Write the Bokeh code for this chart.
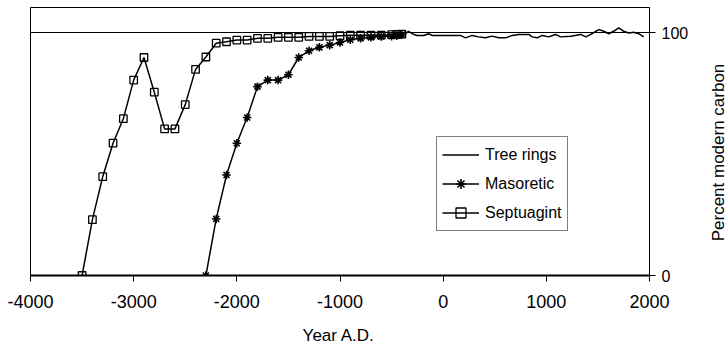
import math
from bokeh.plotting import figure
from bokeh.layouts import row, column
from bokeh.models import Range1d, FixedTicker, Legend, LegendItem
from bokeh.core.properties import value
from bokeh.embed import file_html
from bokeh.resources import INLINE

# ---- data ----
tree_year = [-390, -336, -290, -252, -188, -140, -107, 0, 100, 168, 216, 281, 342, 410,
             475, 539, 604, 669, 733, 830, 863, 911, 960, 1024, 1089, 1137, 1237, 1334,
             1382, 1431, 1479, 1512, 1557, 1605, 1653, 1702, 1750, 1799, 1847, 1896, 1944]
tree_pmc = [98.8, 100.6, 99.4, 98.9, 98.9, 99.6, 98.9, 98.9, 98.9, 98.9, 97.9, 98.9, 98.3, 97.9,
            98.6, 97.9, 97.9, 98.9, 99.3, 99.3, 98.3, 97.9, 98.9, 98.3, 99.3, 98.3, 98.6, 99.3,
            98.3, 99.3, 100.6, 101.3, 100.6, 99.6, 100.6, 102.0, 100.6, 99.9, 100.2, 99.6, 98.3]

maso_year = [-2300, -2200, -2100, -2000, -1900, -1800, -1700, -1600, -1500, -1400, -1300,
             -1200, -1100, -1000, -900, -800, -700, -600, -500, -450, -400]
maso_pmc = [0, 23.3, 41.4, 54.5, 65.1, 77.8, 80.5, 80.5, 82.7, 89.8, 92.6,
            94.0, 94.9, 96.0, 97.1, 97.7, 98.1, 98.5, 98.6, 98.8, 99.2]

sept_year = [-3500, -3400, -3300, -3200, -3100, -3000, -2900, -2800, -2700, -2600, -2500,
             -2400, -2300, -2200, -2100, -2000, -1900, -1800, -1700, -1600, -1500, -1400,
             -1300, -1200, -1100, -1000, -900, -800, -700, -600, -500, -450, -400]
sept_pmc = [0, 23.0, 40.7, 54.5, 64.6, 80.5, 89.8, 75.5, 60.4, 60.4, 70.4,
            84.9, 90.0, 95.7, 96.3, 97.0, 97.0, 97.7, 97.7, 98.1, 98.1, 98.1,
            98.5, 98.5, 98.5, 98.8, 99.0, 99.0, 99.0, 99.0, 99.2, 99.3, 99.4]

x_ticks = [-4000, -3000, -2000, -1000, 0, 1000, 2000]
x_tick_labels = ["-4000", "-3000", "-2000", "-1000", "0", "1000", "2000"]
y_ticks = [0, 100]
y_tick_labels = ["0", "100"]
grid_levels = [100]
x_title = ["Year A.D."]
y_title = ["Percent modern carbon"]

FONT = "Liberation Sans"

p = figure(width=700, height=320, output_backend="svg", toolbar_location=None,
           x_range=Range1d(-4000, 2000), y_range=Range1d(0, 110.4),
           y_axis_location="right",
           min_border_left=30, min_border_right=51, min_border_top=7, min_border_bottom=45)

p.background_fill_color = "white"
p.border_fill_color = "white"
p.outline_line_color = "black"
p.outline_line_width = 1
p.outline_line_alpha = 1

# grid
p.xgrid.visible = False
p.ygrid.ticker = FixedTicker(ticks=grid_levels)
p.ygrid.grid_line_color = "black"
p.ygrid.grid_line_width = 1
p.ygrid.grid_line_alpha = 1

# x axis
xa = p.xaxis[0]
xa.ticker = FixedTicker(ticks=x_ticks)
xa.major_label_overrides = {t: s for t, s in zip(x_ticks, x_tick_labels)}
xa.major_label_text_font = FONT
xa.major_label_text_font_size = "18px"
xa.major_label_text_color = "black"
xa.major_label_standoff = 13
xa.axis_line_color = "black"
xa.axis_line_width = 2
xa.major_tick_line_color = "black"
xa.major_tick_out = 6
xa.major_tick_in = 0
xa.minor_tick_line_color = None

# y axis (right)
ya = p.yaxis[0]
ya.ticker = FixedTicker(ticks=y_ticks)
ya.major_label_overrides = {t: s for t, s in zip(y_ticks, y_tick_labels)}
ya.major_label_text_font = FONT
ya.major_label_text_font_size = "16px"
ya.major_label_text_color = "black"
ya.major_label_standoff = 6
ya.axis_line_color = "black"
ya.axis_line_width = 1
ya.major_tick_line_color = "black"
ya.major_tick_out = 6
ya.major_tick_in = 0
ya.minor_tick_line_color = None

# series
r_tree = p.line(tree_year, tree_pmc, line_color="black", line_width=1.5)
r_maso_l = p.line(maso_year, maso_pmc, line_color="black", line_width=1.5)
r_maso_m = p.scatter(maso_year, maso_pmc, marker="asterisk", size=8.5,
                     line_color="black", line_width=1.6)
r_sept_l = p.line(sept_year, sept_pmc, line_color="black", line_width=1.5)
r_sept_m = p.scatter(sept_year, sept_pmc, marker="square", size=7.5,
                     line_color="black", line_width=1.3, fill_color=None)

legend = Legend(items=[
    LegendItem(label="Tree rings", renderers=[r_tree]),
    LegendItem(label="Masoretic", renderers=[r_maso_l, r_maso_m]),
    LegendItem(label="Septuagint", renderers=[r_sept_l, r_sept_m]),
], location=(406, 44))
legend.label_text_font = FONT
legend.label_text_font_size = "16px"
legend.label_text_color = "black"
legend.glyph_width = 37
legend.glyph_height = 25
legend.label_height = 25
legend.label_standoff = 6
legend.spacing = 4
legend.padding = 5
legend.margin = 0
legend.border_line_color = "black"
legend.border_line_width = 1
legend.background_fill_color = "white"
legend.background_fill_alpha = 1
p.add_layout(legend)


def blank_panel(w, h):
    f = figure(width=w, height=h, output_backend="svg", toolbar_location=None,
               x_range=Range1d(0, w), y_range=Range1d(0, h),
               x_axis_location=None, y_axis_location=None,
               min_border_left=0, min_border_right=0, min_border_top=0, min_border_bottom=0)
    f.outline_line_color = None
    f.xgrid.visible = False
    f.ygrid.visible = False
    f.background_fill_color = "white"
    f.border_fill_color = "white"
    return f


# bottom panel with the x title
p3 = blank_panel(700, 25)
p3.text(x=[348.5], y=[10], text=x_title, text_align="center", text_baseline="middle",
        text_font=value(FONT), text_font_size="17px", text_color="black")

# narrow right panel with the y title, reading bottom-to-top
p2 = blank_panel(27, 345)
p2.text(x=[18], y=[193], text=y_title, angle=math.pi / 2,
        text_align="center", text_baseline="middle",
        text_font=value(FONT), text_font_size="17px", text_color="black")

layout = row(column(p, p3, spacing=0), p2, spacing=0)
open("out.html", "w").write(file_html(layout, INLINE))
